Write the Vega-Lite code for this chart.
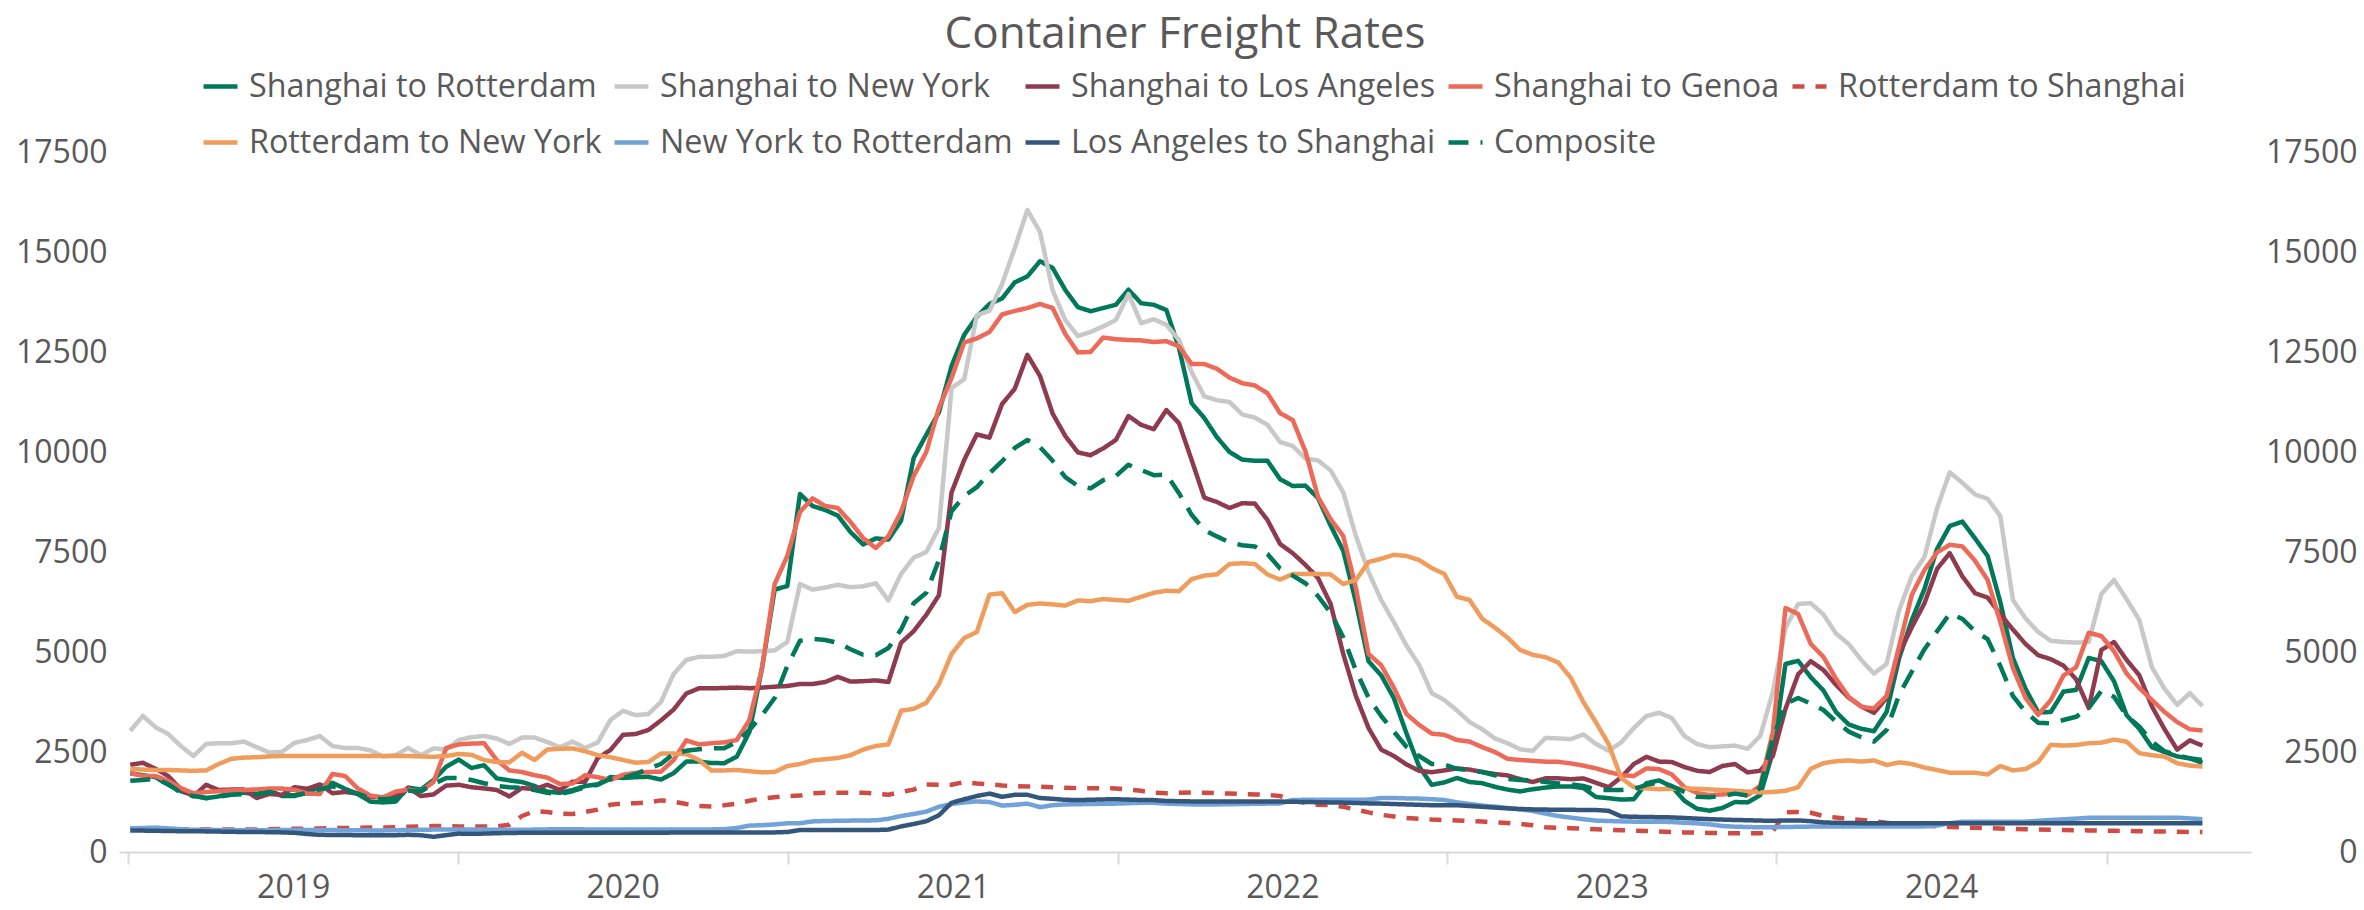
{
  "$schema": "https://vega.github.io/schema/vega-lite/v6.json",
  "width": 2132,
  "height": 700,
  "autosize": {"type": "none"},
  "padding": {"left": 119, "top": 152, "right": 113, "bottom": 58},
  "background": "white",
  "title": {"text": "Container Freight Rates", "anchor": "middle", "frame": "group", "fontSize": 44, "font": "Open Sans", "fontWeight": "normal", "color": "#595959", "offset": 10},
  "config": {"view": {"stroke": null}, "font": "Open Sans"},
  "datasets": {
    "names": [
      {"k": "a", "route": "Shanghai to Rotterdam"},
      {"k": "b", "route": "Shanghai to New York"},
      {"k": "c", "route": "Shanghai to Los Angeles"},
      {"k": "d", "route": "Shanghai to Genoa"},
      {"k": "e", "route": "Rotterdam to Shanghai"},
      {"k": "f", "route": "Rotterdam to New York"},
      {"k": "g", "route": "New York to Rotterdam"},
      {"k": "h", "route": "Los Angeles to Shanghai"},
      {"k": "i", "route": "Composite"}
    ],
    "rates": [
      {"t":"2019-01-03","a":1970,"b":3030,"c":2180,"d":1970,"e":590,"f":2080,"g":590,"h":540,"i":1780},
      {"t":"2019-01-17","a":1920,"b":3400,"c":2230,"d":1900,"e":580,"f":2060,"g":600,"h":535,"i":1800},
      {"t":"2019-01-31","a":1870,"b":3120,"c":2080,"d":1900,"e":575,"f":2050,"g":610,"h":530,"i":1830},
      {"t":"2019-02-14","a":1680,"b":2950,"c":1900,"d":1780,"e":570,"f":2050,"g":590,"h":525,"i":1700},
      {"t":"2019-02-28","a":1520,"b":2650,"c":1570,"d":1600,"e":570,"f":2040,"g":570,"h":520,"i":1480},
      {"t":"2019-03-14","a":1420,"b":2400,"c":1390,"d":1467,"e":565,"f":2030,"g":555,"h":520,"i":1400},
      {"t":"2019-03-28","a":1345,"b":2700,"c":1680,"d":1500,"e":565,"f":2040,"g":550,"h":515,"i":1350},
      {"t":"2019-04-11","a":1390,"b":2720,"c":1550,"d":1520,"e":565,"f":2200,"g":550,"h":510,"i":1380},
      {"t":"2019-04-25","a":1470,"b":2720,"c":1560,"d":1540,"e":565,"f":2330,"g":548,"h":505,"i":1430},
      {"t":"2019-05-09","a":1480,"b":2760,"c":1560,"d":1550,"e":565,"f":2360,"g":545,"h":500,"i":1450},
      {"t":"2019-05-23","a":1450,"b":2620,"c":1350,"d":1565,"e":565,"f":2370,"g":545,"h":500,"i":1440},
      {"t":"2019-06-06","a":1545,"b":2490,"c":1450,"d":1585,"e":570,"f":2390,"g":545,"h":495,"i":1500},
      {"t":"2019-06-20","a":1400,"b":2500,"c":1430,"d":1585,"e":575,"f":2400,"g":548,"h":490,"i":1420},
      {"t":"2019-07-04","a":1400,"b":2730,"c":1620,"d":1555,"e":580,"f":2400,"g":550,"h":480,"i":1420},
      {"t":"2019-07-18","a":1480,"b":2800,"c":1580,"d":1460,"e":585,"f":2400,"g":550,"h":450,"i":1470},
      {"t":"2019-08-01","a":1630,"b":2900,"c":1690,"d":1450,"e":590,"f":2400,"g":550,"h":430,"i":1570},
      {"t":"2019-08-15","a":1730,"b":2650,"c":1470,"d":1950,"e":595,"f":2400,"g":548,"h":425,"i":1640},
      {"t":"2019-08-29","a":1580,"b":2600,"c":1500,"d":1900,"e":600,"f":2400,"g":545,"h":425,"i":1560},
      {"t":"2019-09-12","a":1450,"b":2600,"c":1460,"d":1590,"e":605,"f":2400,"g":545,"h":420,"i":1460},
      {"t":"2019-09-26","a":1260,"b":2540,"c":1380,"d":1410,"e":610,"f":2400,"g":540,"h":420,"i":1340},
      {"t":"2019-10-10","a":1240,"b":2390,"c":1370,"d":1360,"e":615,"f":2400,"g":540,"h":420,"i":1320},
      {"t":"2019-10-24","a":1260,"b":2420,"c":1400,"d":1510,"e":620,"f":2400,"g":545,"h":420,"i":1340},
      {"t":"2019-11-07","a":1610,"b":2600,"c":1600,"d":1560,"e":630,"f":2400,"g":550,"h":430,"i":1530},
      {"t":"2019-11-21","a":1560,"b":2420,"c":1400,"d":1520,"e":640,"f":2390,"g":555,"h":420,"i":1520},
      {"t":"2019-12-05","a":1800,"b":2590,"c":1440,"d":1750,"e":650,"f":2380,"g":560,"h":380,"i":1700},
      {"t":"2019-12-19","a":2130,"b":2560,"c":1660,"d":2600,"e":650,"f":2400,"g":560,"h":420,"i":1850},
      {"t":"2020-01-02","a":2310,"b":2800,"c":1680,"d":2690,"e":640,"f":2450,"g":560,"h":460,"i":1850},
      {"t":"2020-01-16","a":2100,"b":2870,"c":1620,"d":2710,"e":640,"f":2430,"g":560,"h":455,"i":1800},
      {"t":"2020-01-30","a":2170,"b":2900,"c":1590,"d":2720,"e":640,"f":2300,"g":560,"h":460,"i":1720},
      {"t":"2020-02-13","a":1842,"b":2840,"c":1550,"d":2300,"e":640,"f":2250,"g":558,"h":470,"i":1650},
      {"t":"2020-02-27","a":1790,"b":2700,"c":1390,"d":2040,"e":680,"f":2240,"g":555,"h":475,"i":1620},
      {"t":"2020-03-12","a":1750,"b":2860,"c":1600,"d":2000,"e":900,"f":2480,"g":555,"h":480,"i":1600},
      {"t":"2020-03-26","a":1650,"b":2860,"c":1570,"d":1920,"e":1020,"f":2300,"g":560,"h":480,"i":1550},
      {"t":"2020-04-09","a":1508,"b":2750,"c":1680,"d":1860,"e":1000,"f":2560,"g":565,"h":482,"i":1480},
      {"t":"2020-04-23","a":1480,"b":2620,"c":1550,"d":1700,"e":960,"f":2580,"g":570,"h":483,"i":1450},
      {"t":"2020-05-07","a":1550,"b":2760,"c":1758,"d":1710,"e":950,"f":2590,"g":570,"h":483,"i":1520},
      {"t":"2020-05-21","a":1650,"b":2600,"c":1758,"d":1920,"e":1000,"f":2520,"g":565,"h":483,"i":1620},
      {"t":"2020-06-04","a":1690,"b":2740,"c":2350,"d":1870,"e":1060,"f":2420,"g":560,"h":483,"i":1680},
      {"t":"2020-06-18","a":1875,"b":3300,"c":2550,"d":1800,"e":1180,"f":2370,"g":560,"h":483,"i":1830},
      {"t":"2020-07-02","a":1850,"b":3530,"c":2930,"d":1930,"e":1217,"f":2300,"g":560,"h":483,"i":1850},
      {"t":"2020-07-16","a":1870,"b":3420,"c":2950,"d":1980,"e":1217,"f":2233,"g":560,"h":483,"i":1950},
      {"t":"2020-07-30","a":1880,"b":3450,"c":3050,"d":2000,"e":1240,"f":2250,"g":560,"h":483,"i":2080},
      {"t":"2020-08-13","a":1810,"b":3750,"c":3290,"d":2008,"e":1290,"f":2460,"g":560,"h":483,"i":2200},
      {"t":"2020-08-27","a":1970,"b":4450,"c":3560,"d":2300,"e":1260,"f":2460,"g":560,"h":485,"i":2460},
      {"t":"2020-09-10","a":2260,"b":4800,"c":3960,"d":2790,"e":1200,"f":2450,"g":560,"h":485,"i":2530},
      {"t":"2020-09-24","a":2260,"b":4880,"c":4092,"d":2690,"e":1150,"f":2300,"g":560,"h":485,"i":2570},
      {"t":"2020-10-08","a":2225,"b":4880,"c":4092,"d":2720,"e":1140,"f":2040,"g":565,"h":485,"i":2592},
      {"t":"2020-10-22","a":2220,"b":4900,"c":4100,"d":2740,"e":1170,"f":2040,"g":570,"h":485,"i":2592},
      {"t":"2020-11-05","a":2383,"b":5020,"c":4110,"d":2800,"e":1210,"f":2050,"g":600,"h":485,"i":2750},
      {"t":"2020-11-19","a":3000,"b":5010,"c":4095,"d":3300,"e":1280,"f":2020,"g":660,"h":490,"i":3050},
      {"t":"2020-12-03","a":4600,"b":5020,"c":4110,"d":4600,"e":1340,"f":1990,"g":670,"h":490,"i":3420},
      {"t":"2020-12-17","a":6560,"b":5040,"c":4133,"d":6700,"e":1367,"f":2000,"g":690,"h":490,"i":3850},
      {"t":"2020-12-31","a":6650,"b":5250,"c":4150,"d":7400,"e":1400,"f":2150,"g":717,"h":500,"i":4650},
      {"t":"2021-01-14","a":8950,"b":6700,"c":4200,"d":8500,"e":1410,"f":2200,"g":720,"h":549,"i":5280},
      {"t":"2021-01-28","a":8650,"b":6560,"c":4200,"d":8840,"e":1470,"f":2290,"g":765,"h":549,"i":5330},
      {"t":"2021-02-11","a":8550,"b":6610,"c":4250,"d":8650,"e":1484,"f":2320,"g":775,"h":549,"i":5300},
      {"t":"2021-02-25","a":8410,"b":6680,"c":4380,"d":8600,"e":1484,"f":2350,"g":780,"h":549,"i":5230},
      {"t":"2021-03-11","a":8000,"b":6620,"c":4260,"d":8250,"e":1484,"f":2420,"g":785,"h":549,"i":5070},
      {"t":"2021-03-25","a":7690,"b":6640,"c":4270,"d":7850,"e":1484,"f":2560,"g":790,"h":549,"i":4930},
      {"t":"2021-04-08","a":7840,"b":6720,"c":4290,"d":7600,"e":1460,"f":2650,"g":791,"h":549,"i":4920},
      {"t":"2021-04-22","a":7810,"b":6290,"c":4250,"d":7900,"e":1430,"f":2690,"g":830,"h":560,"i":5100},
      {"t":"2021-05-06","a":8280,"b":6950,"c":5230,"d":8500,"e":1500,"f":3530,"g":900,"h":640,"i":5560},
      {"t":"2021-05-20","a":9850,"b":7360,"c":5520,"d":9400,"e":1560,"f":3580,"g":950,"h":700,"i":6220},
      {"t":"2021-06-03","a":10430,"b":7500,"c":5930,"d":10000,"e":1690,"f":3730,"g":1010,"h":769,"i":6480},
      {"t":"2021-06-17","a":10990,"b":8100,"c":6420,"d":11100,"e":1680,"f":4200,"g":1130,"h":920,"i":7300},
      {"t":"2021-07-01","a":12150,"b":11600,"c":8990,"d":11850,"e":1680,"f":4950,"g":1200,"h":1230,"i":8520},
      {"t":"2021-07-15","a":12930,"b":11820,"c":9800,"d":12740,"e":1750,"f":5350,"g":1240,"h":1320,"i":8900},
      {"t":"2021-07-29","a":13380,"b":13420,"c":10440,"d":12840,"e":1710,"f":5500,"g":1264,"h":1400,"i":9120},
      {"t":"2021-08-12","a":13700,"b":13530,"c":10360,"d":13000,"e":1690,"f":6434,"g":1250,"h":1460,"i":9470},
      {"t":"2021-08-26","a":13840,"b":14200,"c":11200,"d":13440,"e":1665,"f":6470,"g":1160,"h":1380,"i":9770},
      {"t":"2021-09-09","a":14240,"b":15100,"c":11580,"d":13525,"e":1648,"f":6000,"g":1180,"h":1430,"i":10100},
      {"t":"2021-09-23","a":14390,"b":16050,"c":12430,"d":13600,"e":1640,"f":6180,"g":1209,"h":1430,"i":10300},
      {"t":"2021-10-07","a":14770,"b":15500,"c":11900,"d":13700,"e":1630,"f":6214,"g":1121,"h":1350,"i":10120},
      {"t":"2021-10-21","a":14600,"b":14040,"c":10960,"d":13600,"e":1620,"f":6190,"g":1170,"h":1330,"i":9780},
      {"t":"2021-11-04","a":14050,"b":13300,"c":10400,"d":12950,"e":1608,"f":6160,"g":1190,"h":1305,"i":9370},
      {"t":"2021-11-18","a":13620,"b":12900,"c":9990,"d":12490,"e":1595,"f":6290,"g":1195,"h":1300,"i":9150},
      {"t":"2021-12-02","a":13520,"b":13000,"c":9920,"d":12500,"e":1594,"f":6270,"g":1200,"h":1305,"i":9090},
      {"t":"2021-12-16","a":13600,"b":13140,"c":10090,"d":12860,"e":1594,"f":6324,"g":1205,"h":1315,"i":9294},
      {"t":"2021-12-30","a":13680,"b":13300,"c":10300,"d":12820,"e":1590,"f":6300,"g":1209,"h":1319,"i":9400},
      {"t":"2022-01-13","a":14058,"b":13950,"c":10900,"d":12800,"e":1560,"f":6280,"g":1220,"h":1310,"i":9680},
      {"t":"2022-01-27","a":13720,"b":13220,"c":10680,"d":12790,"e":1530,"f":6380,"g":1230,"h":1300,"i":9550},
      {"t":"2022-02-10","a":13680,"b":13320,"c":10570,"d":12750,"e":1480,"f":6480,"g":1230,"h":1297,"i":9420},
      {"t":"2022-02-24","a":13550,"b":13180,"c":11050,"d":12770,"e":1470,"f":6530,"g":1210,"h":1275,"i":9440},
      {"t":"2022-03-10","a":12600,"b":12800,"c":10720,"d":12640,"e":1480,"f":6520,"g":1200,"h":1270,"i":8970},
      {"t":"2022-03-24","a":11220,"b":12000,"c":9800,"d":12200,"e":1490,"f":6820,"g":1190,"h":1265,"i":8430},
      {"t":"2022-04-07","a":10850,"b":11390,"c":8860,"d":12200,"e":1480,"f":6910,"g":1190,"h":1261,"i":8050},
      {"t":"2022-04-21","a":10370,"b":11295,"c":8750,"d":12080,"e":1470,"f":6940,"g":1190,"h":1261,"i":7890},
      {"t":"2022-05-05","a":10000,"b":11250,"c":8600,"d":11860,"e":1460,"f":7200,"g":1195,"h":1261,"i":7740},
      {"t":"2022-05-19","a":9810,"b":10940,"c":8720,"d":11720,"e":1450,"f":7220,"g":1200,"h":1261,"i":7670},
      {"t":"2022-06-02","a":9780,"b":10860,"c":8710,"d":11664,"e":1440,"f":7200,"g":1205,"h":1261,"i":7640},
      {"t":"2022-06-16","a":9780,"b":10680,"c":8300,"d":11470,"e":1430,"f":6940,"g":1210,"h":1261,"i":7450},
      {"t":"2022-06-30","a":9320,"b":10250,"c":7700,"d":10971,"e":1400,"f":6810,"g":1215,"h":1261,"i":7087},
      {"t":"2022-07-14","a":9150,"b":10150,"c":7470,"d":10800,"e":1300,"f":6950,"g":1300,"h":1255,"i":6910},
      {"t":"2022-07-28","a":9160,"b":9840,"c":7180,"d":10020,"e":1230,"f":6950,"g":1305,"h":1250,"i":6720},
      {"t":"2022-08-11","a":8850,"b":9790,"c":6850,"d":8880,"e":1180,"f":6950,"g":1307,"h":1245,"i":6400},
      {"t":"2022-08-25","a":8160,"b":9540,"c":6200,"d":8320,"e":1170,"f":6940,"g":1307,"h":1240,"i":5980},
      {"t":"2022-09-08","a":7530,"b":8990,"c":4950,"d":7900,"e":1130,"f":6700,"g":1307,"h":1235,"i":5370},
      {"t":"2022-09-22","a":6250,"b":7900,"c":3900,"d":6600,"e":1060,"f":6800,"g":1307,"h":1225,"i":4540},
      {"t":"2022-10-06","a":4770,"b":7000,"c":3100,"d":4950,"e":990,"f":7250,"g":1310,"h":1215,"i":3860},
      {"t":"2022-10-20","a":4420,"b":6300,"c":2560,"d":4670,"e":930,"f":7330,"g":1350,"h":1210,"i":3400},
      {"t":"2022-11-03","a":3850,"b":5750,"c":2400,"d":4110,"e":890,"f":7430,"g":1350,"h":1200,"i":3010},
      {"t":"2022-11-17","a":2970,"b":5160,"c":2190,"d":3450,"e":850,"f":7400,"g":1340,"h":1190,"i":2630},
      {"t":"2022-12-01","a":2140,"b":4680,"c":2030,"d":3180,"e":830,"f":7300,"g":1335,"h":1180,"i":2400},
      {"t":"2022-12-15","a":1680,"b":3970,"c":1995,"d":2960,"e":810,"f":7100,"g":1320,"h":1170,"i":2200},
      {"t":"2022-12-29","a":1740,"b":3800,"c":2040,"d":2930,"e":800,"f":6950,"g":1300,"h":1168,"i":2186},
      {"t":"2023-01-12","a":1850,"b":3540,"c":2090,"d":2800,"e":790,"f":6380,"g":1240,"h":1170,"i":2080},
      {"t":"2023-01-26","a":1750,"b":3250,"c":2060,"d":2760,"e":775,"f":6300,"g":1200,"h":1150,"i":2040},
      {"t":"2023-02-09","a":1720,"b":3070,"c":2000,"d":2620,"e":760,"f":5830,"g":1160,"h":1130,"i":2000},
      {"t":"2023-02-23","a":1630,"b":2840,"c":1950,"d":2500,"e":740,"f":5610,"g":1135,"h":1110,"i":1920},
      {"t":"2023-03-09","a":1560,"b":2720,"c":1915,"d":2330,"e":725,"f":5360,"g":1100,"h":1090,"i":1830},
      {"t":"2023-03-23","a":1515,"b":2567,"c":1820,"d":2300,"e":700,"f":5050,"g":1065,"h":1075,"i":1800},
      {"t":"2023-04-06","a":1570,"b":2530,"c":1750,"d":2280,"e":670,"f":4930,"g":1025,"h":1065,"i":1790},
      {"t":"2023-04-20","a":1610,"b":2850,"c":1842,"d":2258,"e":620,"f":4870,"g":960,"h":1060,"i":1750},
      {"t":"2023-05-04","a":1640,"b":2840,"c":1842,"d":2255,"e":605,"f":4740,"g":900,"h":1055,"i":1715},
      {"t":"2023-05-18","a":1640,"b":2820,"c":1820,"d":2215,"e":595,"f":4360,"g":860,"h":1055,"i":1690},
      {"t":"2023-06-01","a":1600,"b":2940,"c":1840,"d":2160,"e":580,"f":3750,"g":820,"h":1050,"i":1650},
      {"t":"2023-06-15","a":1375,"b":2700,"c":1730,"d":2090,"e":567,"f":3240,"g":785,"h":1050,"i":1555},
      {"t":"2023-06-29","a":1345,"b":2533,"c":1620,"d":2000,"e":555,"f":2700,"g":775,"h":1030,"i":1550},
      {"t":"2023-07-13","a":1310,"b":2740,"c":1870,"d":1920,"e":545,"f":1850,"g":765,"h":890,"i":1550},
      {"t":"2023-07-27","a":1320,"b":3100,"c":2200,"d":1900,"e":535,"f":1620,"g":758,"h":880,"i":1570},
      {"t":"2023-08-10","a":1720,"b":3400,"c":2380,"d":2090,"e":525,"f":1590,"g":758,"h":875,"i":1680},
      {"t":"2023-08-24","a":1790,"b":3480,"c":2260,"d":2070,"e":510,"f":1570,"g":758,"h":870,"i":1740},
      {"t":"2023-09-07","a":1633,"b":3350,"c":2250,"d":1940,"e":500,"f":1580,"g":750,"h":865,"i":1650},
      {"t":"2023-09-21","a":1280,"b":2900,"c":2125,"d":1620,"e":490,"f":1590,"g":730,"h":850,"i":1500},
      {"t":"2023-10-05","a":1080,"b":2700,"c":2030,"d":1475,"e":485,"f":1580,"g":717,"h":835,"i":1380},
      {"t":"2023-10-19","a":1033,"b":2620,"c":2000,"d":1420,"e":478,"f":1565,"g":690,"h":820,"i":1370},
      {"t":"2023-11-02","a":1100,"b":2640,"c":2150,"d":1440,"e":470,"f":1550,"g":650,"h":810,"i":1400},
      {"t":"2023-11-16","a":1250,"b":2660,"c":2200,"d":1470,"e":467,"f":1530,"g":633,"h":800,"i":1460},
      {"t":"2023-11-30","a":1240,"b":2580,"c":1990,"d":1420,"e":467,"f":1510,"g":625,"h":795,"i":1410},
      {"t":"2023-12-14","a":1420,"b":2900,"c":2030,"d":1660,"e":467,"f":1490,"g":617,"h":785,"i":1600},
      {"t":"2023-12-28","a":2500,"b":4000,"c":2400,"d":3000,"e":520,"f":1500,"g":620,"h":780,"i":2850},
      {"t":"2024-01-11","a":4700,"b":5600,"c":3580,"d":6100,"e":990,"f":1530,"g":625,"h":790,"i":3700},
      {"t":"2024-01-25","a":4780,"b":6200,"c":4440,"d":5950,"e":1000,"f":1620,"g":630,"h":790,"i":3850},
      {"t":"2024-02-08","a":4370,"b":6220,"c":4770,"d":5200,"e":980,"f":2080,"g":635,"h":770,"i":3710},
      {"t":"2024-02-22","a":4040,"b":5940,"c":4550,"d":4880,"e":900,"f":2220,"g":635,"h":740,"i":3550},
      {"t":"2024-03-07","a":3500,"b":5460,"c":4180,"d":4330,"e":860,"f":2270,"g":635,"h":730,"i":3260},
      {"t":"2024-03-21","a":3190,"b":5200,"c":3860,"d":3880,"e":830,"f":2290,"g":635,"h":725,"i":3010},
      {"t":"2024-04-04","a":3080,"b":4800,"c":3640,"d":3630,"e":800,"f":2260,"g":635,"h":720,"i":2870},
      {"t":"2024-04-18","a":3020,"b":4460,"c":3480,"d":3590,"e":770,"f":2290,"g":635,"h":718,"i":2760},
      {"t":"2024-05-02","a":3500,"b":4700,"c":3850,"d":3900,"e":730,"f":2175,"g":635,"h":717,"i":3050},
      {"t":"2024-05-16","a":4850,"b":6050,"c":4970,"d":5150,"e":710,"f":2240,"g":635,"h":717,"i":3940},
      {"t":"2024-05-30","a":5800,"b":6900,"c":5620,"d":6430,"e":680,"f":2200,"g":635,"h":717,"i":4510},
      {"t":"2024-06-13","a":6580,"b":7380,"c":6220,"d":7050,"e":655,"f":2110,"g":640,"h":717,"i":5070},
      {"t":"2024-06-27","a":7580,"b":8600,"c":7080,"d":7490,"e":640,"f":2050,"g":660,"h":717,"i":5520},
      {"t":"2024-07-11","a":8150,"b":9490,"c":7470,"d":7680,"e":625,"f":1983,"g":720,"h":717,"i":5960},
      {"t":"2024-07-25","a":8260,"b":9230,"c":6890,"d":7640,"e":615,"f":1983,"g":758,"h":717,"i":5830},
      {"t":"2024-08-08","a":7840,"b":8940,"c":6470,"d":7280,"e":605,"f":1980,"g":758,"h":717,"i":5520},
      {"t":"2024-08-22","a":7400,"b":8830,"c":6360,"d":6800,"e":595,"f":1940,"g":758,"h":717,"i":5320},
      {"t":"2024-09-05","a":6250,"b":8400,"c":5950,"d":5750,"e":585,"f":2150,"g":758,"h":717,"i":4650},
      {"t":"2024-09-19","a":4850,"b":6300,"c":5560,"d":4600,"e":575,"f":2040,"g":758,"h":717,"i":3900},
      {"t":"2024-10-03","a":4080,"b":5840,"c":5200,"d":3850,"e":567,"f":2075,"g":758,"h":717,"i":3500},
      {"t":"2024-10-17","a":3490,"b":5500,"c":4920,"d":3430,"e":560,"f":2250,"g":780,"h":717,"i":3230},
      {"t":"2024-10-31","a":3500,"b":5280,"c":4820,"d":3800,"e":555,"f":2680,"g":800,"h":717,"i":3220},
      {"t":"2024-11-14","a":4010,"b":5250,"c":4660,"d":4410,"e":550,"f":2660,"g":817,"h":717,"i":3300},
      {"t":"2024-11-28","a":4050,"b":5235,"c":4320,"d":4620,"e":545,"f":2675,"g":835,"h":717,"i":3380},
      {"t":"2024-12-12","a":4850,"b":5250,"c":3600,"d":5480,"e":540,"f":2720,"g":855,"h":717,"i":3600},
      {"t":"2024-12-26","a":4770,"b":6450,"c":5050,"d":5400,"e":535,"f":2733,"g":858,"h":717,"i":4030},
      {"t":"2025-01-09","a":4270,"b":6800,"c":5250,"d":5020,"e":530,"f":2810,"g":858,"h":717,"i":3880},
      {"t":"2025-01-23","a":3420,"b":6320,"c":4800,"d":4460,"e":525,"f":2758,"g":858,"h":717,"i":3400},
      {"t":"2025-02-06","a":3080,"b":5800,"c":4420,"d":4100,"e":520,"f":2470,"g":858,"h":717,"i":3140},
      {"t":"2025-02-20","a":2620,"b":4620,"c":3640,"d":3800,"e":515,"f":2420,"g":858,"h":717,"i":2760},
      {"t":"2025-03-06","a":2500,"b":4080,"c":3070,"d":3500,"e":510,"f":2385,"g":858,"h":717,"i":2520},
      {"t":"2025-03-20","a":2390,"b":3680,"c":2560,"d":3250,"e":505,"f":2220,"g":858,"h":717,"i":2420},
      {"t":"2025-04-03","a":2340,"b":3970,"c":2790,"d":3067,"e":500,"f":2160,"g":840,"h":717,"i":2342},
      {"t":"2025-04-17","a":2230,"b":3650,"c":2660,"d":3040,"e":500,"f":2135,"g":820,"h":717,"i":2300}
    ]
  },
  "data": {"name": "rates"},
  "transform": [
    {"fold": ["a", "b", "c", "d", "e", "f", "g", "h", "i"], "as": ["k", "v"]},
    {"lookup": "k", "from": {"data": {"name": "names"}, "key": "k", "fields": ["route"]}}
  ],
  "layer": [
    {
      "mark": {"type": "line", "strokeCap": "butt", "strokeJoin": "round"},
      "encoding": {
        "x": {
          "field": "t", "type": "temporal",
          "scale": {"type": "utc", "domain": [
            {"year": 2018, "month": 12, "date": 21, "hours": 12, "utc": true},
            {"year": 2025, "month": 6, "date": 9, "hours": 19, "utc": true}
          ]},
          "axis": {
            "values": [
              {"year": 2019, "month": 1, "date": 1, "utc": true},
              {"year": 2020, "month": 1, "date": 1, "utc": true},
              {"year": 2021, "month": 1, "date": 1, "utc": true},
              {"year": 2022, "month": 1, "date": 1, "utc": true},
              {"year": 2023, "month": 1, "date": 1, "utc": true},
              {"year": 2024, "month": 1, "date": 1, "utc": true},
              {"year": 2025, "month": 1, "date": 1, "utc": true}
            ],
            "format": "%Y",
            "labelExpr": "utcyear(datum.value) > 2024 ? '' : datum.label",
            "labelOffset": 164.7,
            "labelFont": "Open Sans", "labelFontSize": 32, "labelColor": "#595959",
            "labelPadding": 8, "labelFlush": false, "labelOverlap": false, "labelBound": false,
            "tickSize": 12, "tickColor": "#D9D9D9", "tickWidth": 2,
            "domainColor": "#D9D9D9", "domainWidth": 2,
            "grid": false, "title": null
          }
        },
        "y": {
          "field": "v", "type": "quantitative",
          "scale": {"domain": [0, 17500], "nice": false},
          "axis": {
            "values": [0, 2500, 5000, 7500, 10000, 12500, 15000, 17500],
            "format": "d", "orient": "left",
            "labelFont": "Open Sans", "labelFontSize": 32, "labelColor": "#595959",
            "labelPadding": 12, "ticks": false, "tickSize": 0, "domain": false, "grid": false, "title": null
          }
        },
        "color": {
          "field": "route", "type": "nominal",
          "scale": {
            "domain": ["Shanghai to Rotterdam", "Shanghai to New York", "Shanghai to Los Angeles", "Shanghai to Genoa", "Rotterdam to Shanghai", "Rotterdam to New York", "New York to Rotterdam", "Los Angeles to Shanghai", "Composite"],
            "range": ["#00785A", "#C8C8C8", "#8E3B50", "#EC6A57", "#CF4C45", "#EF9C5D", "#72A3D8", "#34567A", "#00785A"]
          },
          "legend": {
            "title": null, "orient": "none", "legendX": 82, "legendY": -85,
            "direction": "horizontal", "columns": 5, "gridAlign": "none",
            "columnPadding": 3, "rowPadding": 20, "padding": 0,
            "symbolType": "stroke", "symbolSize": 1156, "symbolStrokeWidth": 5.5,
            "labelFont": "Open Sans", "labelFontSize": 32.3, "labelColor": "#595959",
            "labelOffset": 9, "labelLimit": 800
          }
        },
        "strokeDash": {
          "field": "route", "type": "nominal",
          "scale": {
            "domain": ["Shanghai to Rotterdam", "Shanghai to New York", "Shanghai to Los Angeles", "Shanghai to Genoa", "Rotterdam to Shanghai", "Rotterdam to New York", "New York to Rotterdam", "Los Angeles to Shanghai", "Composite"],
            "range": [[1, 0], [1, 0], [1, 0], [1, 0], [12, 11], [1, 0], [1, 0], [1, 0], [20, 12]]
          },
          "legend": {
            "title": null, "orient": "none", "legendX": 82, "legendY": -85,
            "direction": "horizontal", "columns": 5, "gridAlign": "none",
            "columnPadding": 3, "rowPadding": 20, "padding": 0,
            "symbolType": "stroke", "symbolSize": 1156, "symbolStrokeWidth": 5.5,
            "labelFont": "Open Sans", "labelFontSize": 32.3, "labelColor": "#595959",
            "labelOffset": 9, "labelLimit": 800
          }
        },
        "strokeWidth": {
          "field": "route", "type": "nominal",
          "scale": {
            "domain": ["Shanghai to Rotterdam", "Shanghai to New York", "Shanghai to Los Angeles", "Shanghai to Genoa", "Rotterdam to Shanghai", "Rotterdam to New York", "New York to Rotterdam", "Los Angeles to Shanghai", "Composite"],
            "range": [4.5, 4.5, 4.5, 4.5, 5, 4.5, 5.5, 4.5, 6.5]
          },
          "legend": null
        }
      }
    },
    {
      "mark": {"type": "point", "opacity": 0},
      "encoding": {
        "y": {
          "field": "v", "type": "quantitative",
          "scale": {"domain": [0, 17500], "nice": false},
          "axis": {
            "values": [0, 2500, 5000, 7500, 10000, 12500, 15000, 17500],
            "format": "d", "orient": "right", "labelAlign": "right",
            "labelFont": "Open Sans", "labelFontSize": 32, "labelColor": "#595959",
            "labelPadding": 106, "ticks": false, "tickSize": 0, "domain": false, "grid": false, "title": null
          }
        }
      }
    }
  ],
  "resolve": {"scale": {"y": "independent"}}
}
